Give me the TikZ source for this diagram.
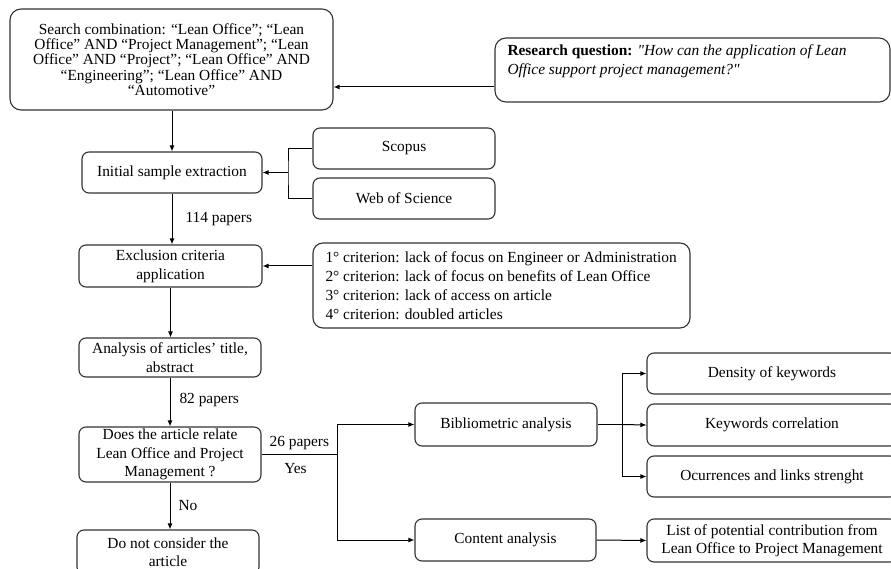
\documentclass[tikz,border=0pt]{standalone}
\usepackage{fontspec}
\setmainfont{Liberation Serif}[Ligatures=TeXOff]
\usetikzlibrary{arrows.meta}
\begin{document}
\begin{tikzpicture}[x=1pt,y=-1pt,
  box/.style={draw=black!80, line width=1.1pt, rounded corners=7pt, align=center, inner sep=0pt,
    font=\fontsize{15.4}{18.5}\selectfont},
  arr/.style={-{Latex[length=6pt,width=5pt]}, line width=1pt},
  ln/.style={line width=1pt},
  lbl/.style={font=\fontsize{15.4}{18.5}\selectfont, inner sep=0pt}]
\useasboundingbox (0,0) rectangle (891,569);

% nodes
\node[box, rounded corners=11pt, minimum width=323pt, minimum height=101pt,
  font=\fontsize{15.4}{15.3}\selectfont] (search) at (171.5,59.5)
  {Search combination: “Lean Office”; “Lean\\
   Office” AND “Project Management”; “Lean\\
   Office” AND “Project”; “Lean Office” AND\\
   “Engineering”; “Lean Office” AND\\
   “Automotive”};
\node[box, rounded corners=11pt, minimum width=395pt, minimum height=64pt] (research) at (692.5,70)
  {\parbox[c][50pt][t]{370pt}{\raggedright\textbf{Research question:} \textit{"How can the application of Lean}\\
   \textit{Office support project management?"}}};
\node[box, minimum width=180pt, minimum height=41pt] (initial) at (172,172.5) {Initial sample extraction};
\node[box, minimum width=182pt, minimum height=41pt] (scopus) at (404,148.5) {Scopus};
\node[box, minimum width=182pt, minimum height=41pt] (wos) at (404,198.5) {Web of Science};
\node[box, minimum width=183pt, minimum height=42pt, font=\fontsize{15.4}{19}\selectfont] (exclusion) at (170.5,266)
  {Exclusion criteria\\ application};
\node[box, rounded corners=10pt, minimum width=377pt, minimum height=85pt, font=\fontsize{15.4}{19}\selectfont] (criteria) at (501.5,285.5)
  {\parbox{352pt}{\raggedright 1° criterion: lack of focus on Engineer or Administration\\
   2° criterion: lack of focus on benefits of Lean Office\\
   3° criterion: lack of access on article\\
   4° criterion: doubled articles}};
\node[box, minimum width=182pt, minimum height=39pt] (analysis) at (170,357.5)
  {Analysis of articles’ title,\\ abstract};
\node[box, minimum width=182pt, minimum height=55pt] (does) at (170,454.5)
  {Does the article relate\\ Lean Office and Project\\ Management ?};
\node[box, minimum width=182pt, minimum height=44pt] (donot) at (168,552)
  {Do not consider the\\ article};
\node[box, minimum width=182pt, minimum height=43pt] (biblio) at (506,424.5) {Bibliometric analysis};
\node[box, minimum width=181pt, minimum height=42pt] (content) at (505.5,540) {Content analysis};
\node[box, minimum width=250pt, minimum height=41pt] (density) at (772,373.5) {Density of keywords};
\node[box, minimum width=250pt, minimum height=42pt] (keywords) at (772,425) {Keywords correlation};
\node[box, minimum width=250pt, minimum height=41pt] (ocurr) at (772,476.5) {Ocurrences and links strenght};
\node[box, minimum width=250pt, minimum height=43pt] (list) at (772,540.5)
  {List of potential contribution from\\ Lean Office to Project Management};

% junction coordinates
\coordinate (br) at (288,172.5);
\coordinate (yes) at (337,454.5);
\coordinate (bj) at (622,424.5);

% connectors
\draw[arr] (search.south -| initial.north) -- (initial.north);
\draw[arr] (research.west |- 0,87) -- (search.east |- 0,87);
\draw[ln] (scopus.west) -| (br) |- (wos.west);
\draw[arr] (br) -- (initial.east);
\draw[arr] (initial.south) -- (initial.south |- exclusion.north)
  node[lbl, pos=0.5, right=13pt] {114 papers};
\draw[arr] (criteria.west |- exclusion.east) -- (exclusion.east);
\draw[arr] (exclusion.south) -- (exclusion.south |- analysis.north);
\draw[arr] (analysis.south) -- (analysis.south |- does.north)
  node[lbl, pos=0.45, right=9pt] {82 papers};
\draw[arr] (does.south) -- (does.south |- donot.north)
  node[lbl, pos=0.5, right=8pt] {No};
\draw[ln] (does.east) -- (yes)
  node[lbl, pos=0.5, above=4pt] {26 papers}
  node[lbl, pos=0.45, below=8pt] {Yes};
\draw[arr] (yes) |- (biblio.west);
\draw[arr] (yes) |- (content.west);
\draw[ln] (biblio.east) -- (bj);
\draw[arr] (bj) |- (density.west);
\draw[arr] (bj) -- (keywords.west);
\draw[arr] (bj) |- (ocurr.west);
\draw[arr] (content.east) -- (list.west);
\end{tikzpicture}
\end{document}
